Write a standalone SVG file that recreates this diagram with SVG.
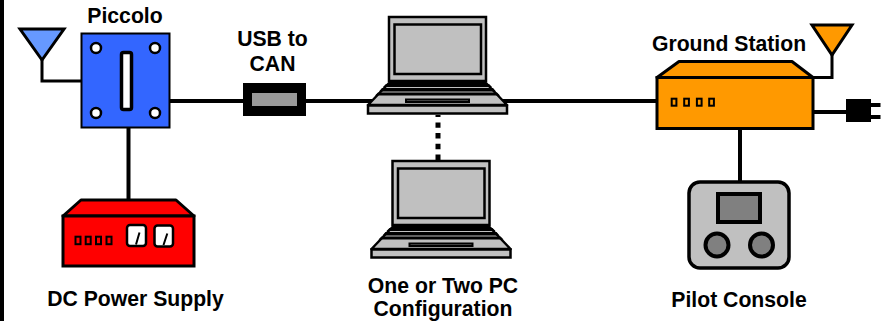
<svg xmlns="http://www.w3.org/2000/svg" width="884" height="321" viewBox="0 0 884 321">
<style>
text{font-family:"Liberation Sans",Arial,sans-serif;font-weight:700;font-size:21.200px;fill:#000;text-anchor:middle}
.k{stroke:#000;stroke-width:3;stroke-linejoin:miter}
.roof{stroke:#000;stroke-width:3;stroke-linejoin:round}
.w{fill:none;stroke:#000;stroke-width:4}
.t{fill:none;stroke:#000;stroke-width:3}
.lg{fill:#c0c0c0;stroke:#000;stroke-width:2.500}
.g{fill:#808080;stroke:#000;stroke-width:4}
.led{fill:none;stroke:#000;stroke-width:2}
</style>
<defs>
<g id="laptop">
<path class="lg" d="M389 17H486V81H389Z"/>
<path class="lg" d="M394.500 24.500H481V74H394.500Z"/>
<path d="M389 83H486L507 105H368Z" fill="#c0c0c0" stroke="#000" stroke-width="2.500" stroke-linejoin="round"/>
<path d="M386 84H489L492 87H383Z" fill="#000"/>
<path d="M382 88H493L496 91.500H379Z" fill="#000"/>
<path d="M378 92.500H497L500 95.500H375Z" fill="#000"/>
<path d="M406 102V99.500H469V102Z" fill="#808080" stroke="#000" stroke-width="2"/>
<path class="lg" d="M368 105.500H507V113.500H368Z"/>
</g>
</defs>
<rect x="0" y="0" width="4" height="321" fill="#000"/>
<g id="connectors">
<path class="w" d="M169 101H243M306 101H375M500 101H657"/>
<path class="t" d="M42 60V81H81"/>
<path class="w" d="M128.500 127V200"/>
<path d="M438 115V160" fill="none" stroke="#000" stroke-width="5" stroke-dasharray="5.400 5.300" stroke-dashoffset="3.300"/>
<path class="t" d="M832 55V77.500H813"/>
<path class="w" d="M813 112H846"/>
<path class="w" d="M740 128V182"/>
</g>
<g id="antenna-left"><path class="k" d="M20 29H64L42 60Z" fill="#6699ff"/></g>
<g id="piccolo">
<rect x="81.500" y="33.500" width="88" height="94" fill="#3366ff" stroke="#000" stroke-width="2"/>
<g fill="#fff" stroke="#000" stroke-width="2.500"><circle cx="96" cy="48" r="5"/><circle cx="155" cy="48" r="5"/><circle cx="96" cy="113" r="5"/><circle cx="155" cy="113" r="5"/></g>
<rect x="121.500" y="52.500" width="10" height="57" rx="2" fill="#fff" stroke="#000" stroke-width="3.500"/>
<text x="125" y="23">Piccolo</text>
</g>
<g id="usb-can">
<rect x="243" y="83" width="63" height="33" fill="#000"/>
<rect x="252" y="93" width="45" height="13" fill="#999"/>
<text x="272.500" y="46">USB to</text><text x="272.500" y="71">CAN</text>
</g>
<g id="power-supply">
<path class="roof" d="M63 216L81 200H176L194 216Z" fill="#f00"/>
<rect x="63" y="216" width="131" height="50" fill="#f00" stroke="#000" stroke-width="3"/>
<g class="led"><rect x="75.500" y="236.700" width="5" height="7.500"/><rect x="85.700" y="236.700" width="5" height="7.500"/><rect x="96" y="236.700" width="5" height="7.500"/><rect x="106.500" y="236.700" width="5" height="7.500"/></g>
<rect x="127" y="225" width="19" height="21" rx="3" fill="#fff" stroke="#000" stroke-width="2.500"/>
<rect x="154.500" y="225.500" width="18.500" height="21" rx="3" fill="#fff" stroke="#000" stroke-width="2.500"/>
<path d="M136 244.500L139.500 232.500M163.500 245L167.300 233.500" stroke="#000" stroke-width="2" fill="none"/>
<text x="135.500" y="306">DC Power Supply</text>
</g>
<g id="laptop-1"><use href="#laptop"/></g>
<g id="laptop-2"><use href="#laptop" x="3.500" y="144"/>
<text x="443" y="293">One or Two PC</text><text x="443" y="316">Configuration</text></g>
<g id="antenna-right"><path class="k" d="M812 25H852L832 55Z" fill="#f90"/></g>
<g id="ground-station">
<path class="roof" d="M657 77.500L679 61.500H792L813 77.500Z" fill="#f90"/>
<rect x="657" y="77.500" width="156" height="51" fill="#f90" stroke="#000" stroke-width="3"/>
<g class="led"><rect x="671.700" y="98.700" width="4.700" height="7"/><rect x="684.200" y="98.700" width="4.700" height="7"/><rect x="696.900" y="98.700" width="4.700" height="7"/><rect x="709.200" y="98.700" width="4.700" height="7"/></g>
<text x="729" y="51">Ground Station</text>
</g>
<g id="plug">
<rect x="846" y="99" width="25" height="23" fill="#000"/>
<rect x="871" y="103" width="9.500" height="4" fill="#000"/><rect x="871" y="115" width="9.500" height="4" fill="#000"/>
</g>
<g id="pilot-console">
<rect x="689" y="182" width="100" height="86" rx="11" fill="#c0c0c0" stroke="#000" stroke-width="3.500"/>
<rect x="718" y="194" width="42" height="28" class="g" stroke-width="3"/>
<circle cx="717" cy="245" r="11.500" class="g"/><circle cx="761.500" cy="245" r="11.500" class="g"/>
<text x="739" y="307">Pilot Console</text>
</g>
</svg>
